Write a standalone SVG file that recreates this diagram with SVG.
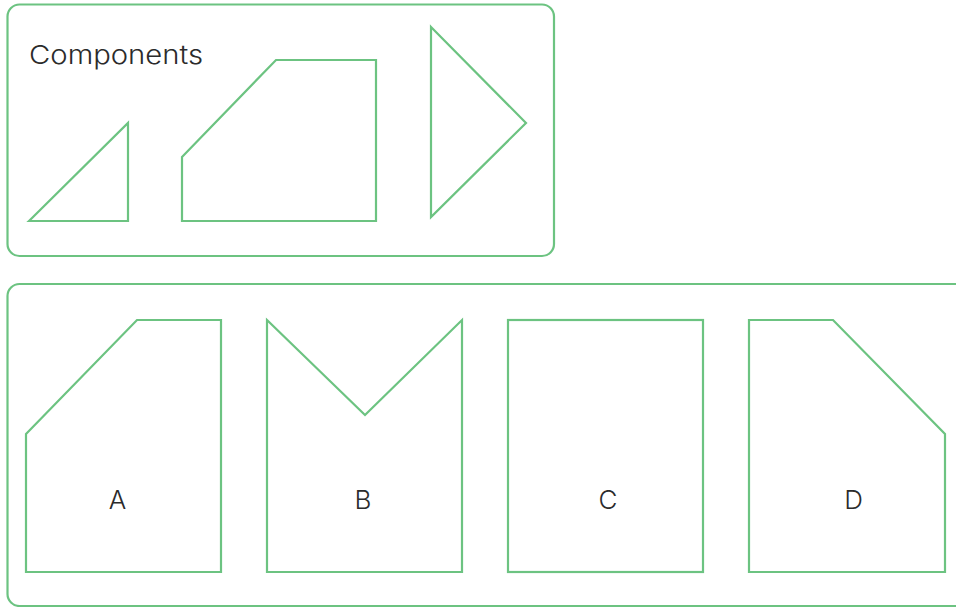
<svg xmlns="http://www.w3.org/2000/svg" width="956" height="607" viewBox="0 0 956 607">
<style>
.s{fill:none;stroke:#6cc381;stroke-width:2.2;stroke-linejoin:miter}
.frame{fill:none;stroke:#6cc381;stroke-width:2.2}
.t{font-family:Inter,"Open Sans",sans-serif;font-size:26px;font-weight:300;fill:#2b2b2b}
.c{text-anchor:middle}
</style>
<rect width="956" height="607" fill="#fff"/>
<g id="components">
<rect class="frame" x="7.5" y="4.5" width="546.5" height="251.5" rx="12"/>
<text class="t" x="29" y="64" textLength="174" lengthAdjust="spacingAndGlyphs">Components</text>
</g>
<g id="comp-triangle"><polygon class="s" points="29,221 128,123 128,221"/></g>
<g id="comp-trapezoid"><polygon class="s" points="182,157 276,60 376,60 376,221 182,221"/></g>
<g id="comp-arrow"><polygon class="s" points="431,27 526,123 431,217"/></g>
<g id="options">
<path class="frame" d="M960,284 H19.5 A12,12 0 0 0 7.5,296 V594 A12,12 0 0 0 19.5,606 H960"/>
</g>
<g id="A"><polygon class="s" points="26,434 137,320 221,320 221,572 26,572"/><text class="t c" x="117.5" y="509">A</text></g>
<g id="B"><polygon class="s" points="267,320 365,415 462,320 462,572 267,572"/><text class="t c" x="363" y="509">B</text></g>
<g id="C"><rect class="s" x="508" y="320" width="195" height="252"/><text class="t c" x="608" y="509">C</text></g>
<g id="D"><polygon class="s" points="749,320 833,320 945,434 945,572 749,572"/><text class="t c" x="853.5" y="509">D</text></g>
<g id="connectors"></g>
</svg>
